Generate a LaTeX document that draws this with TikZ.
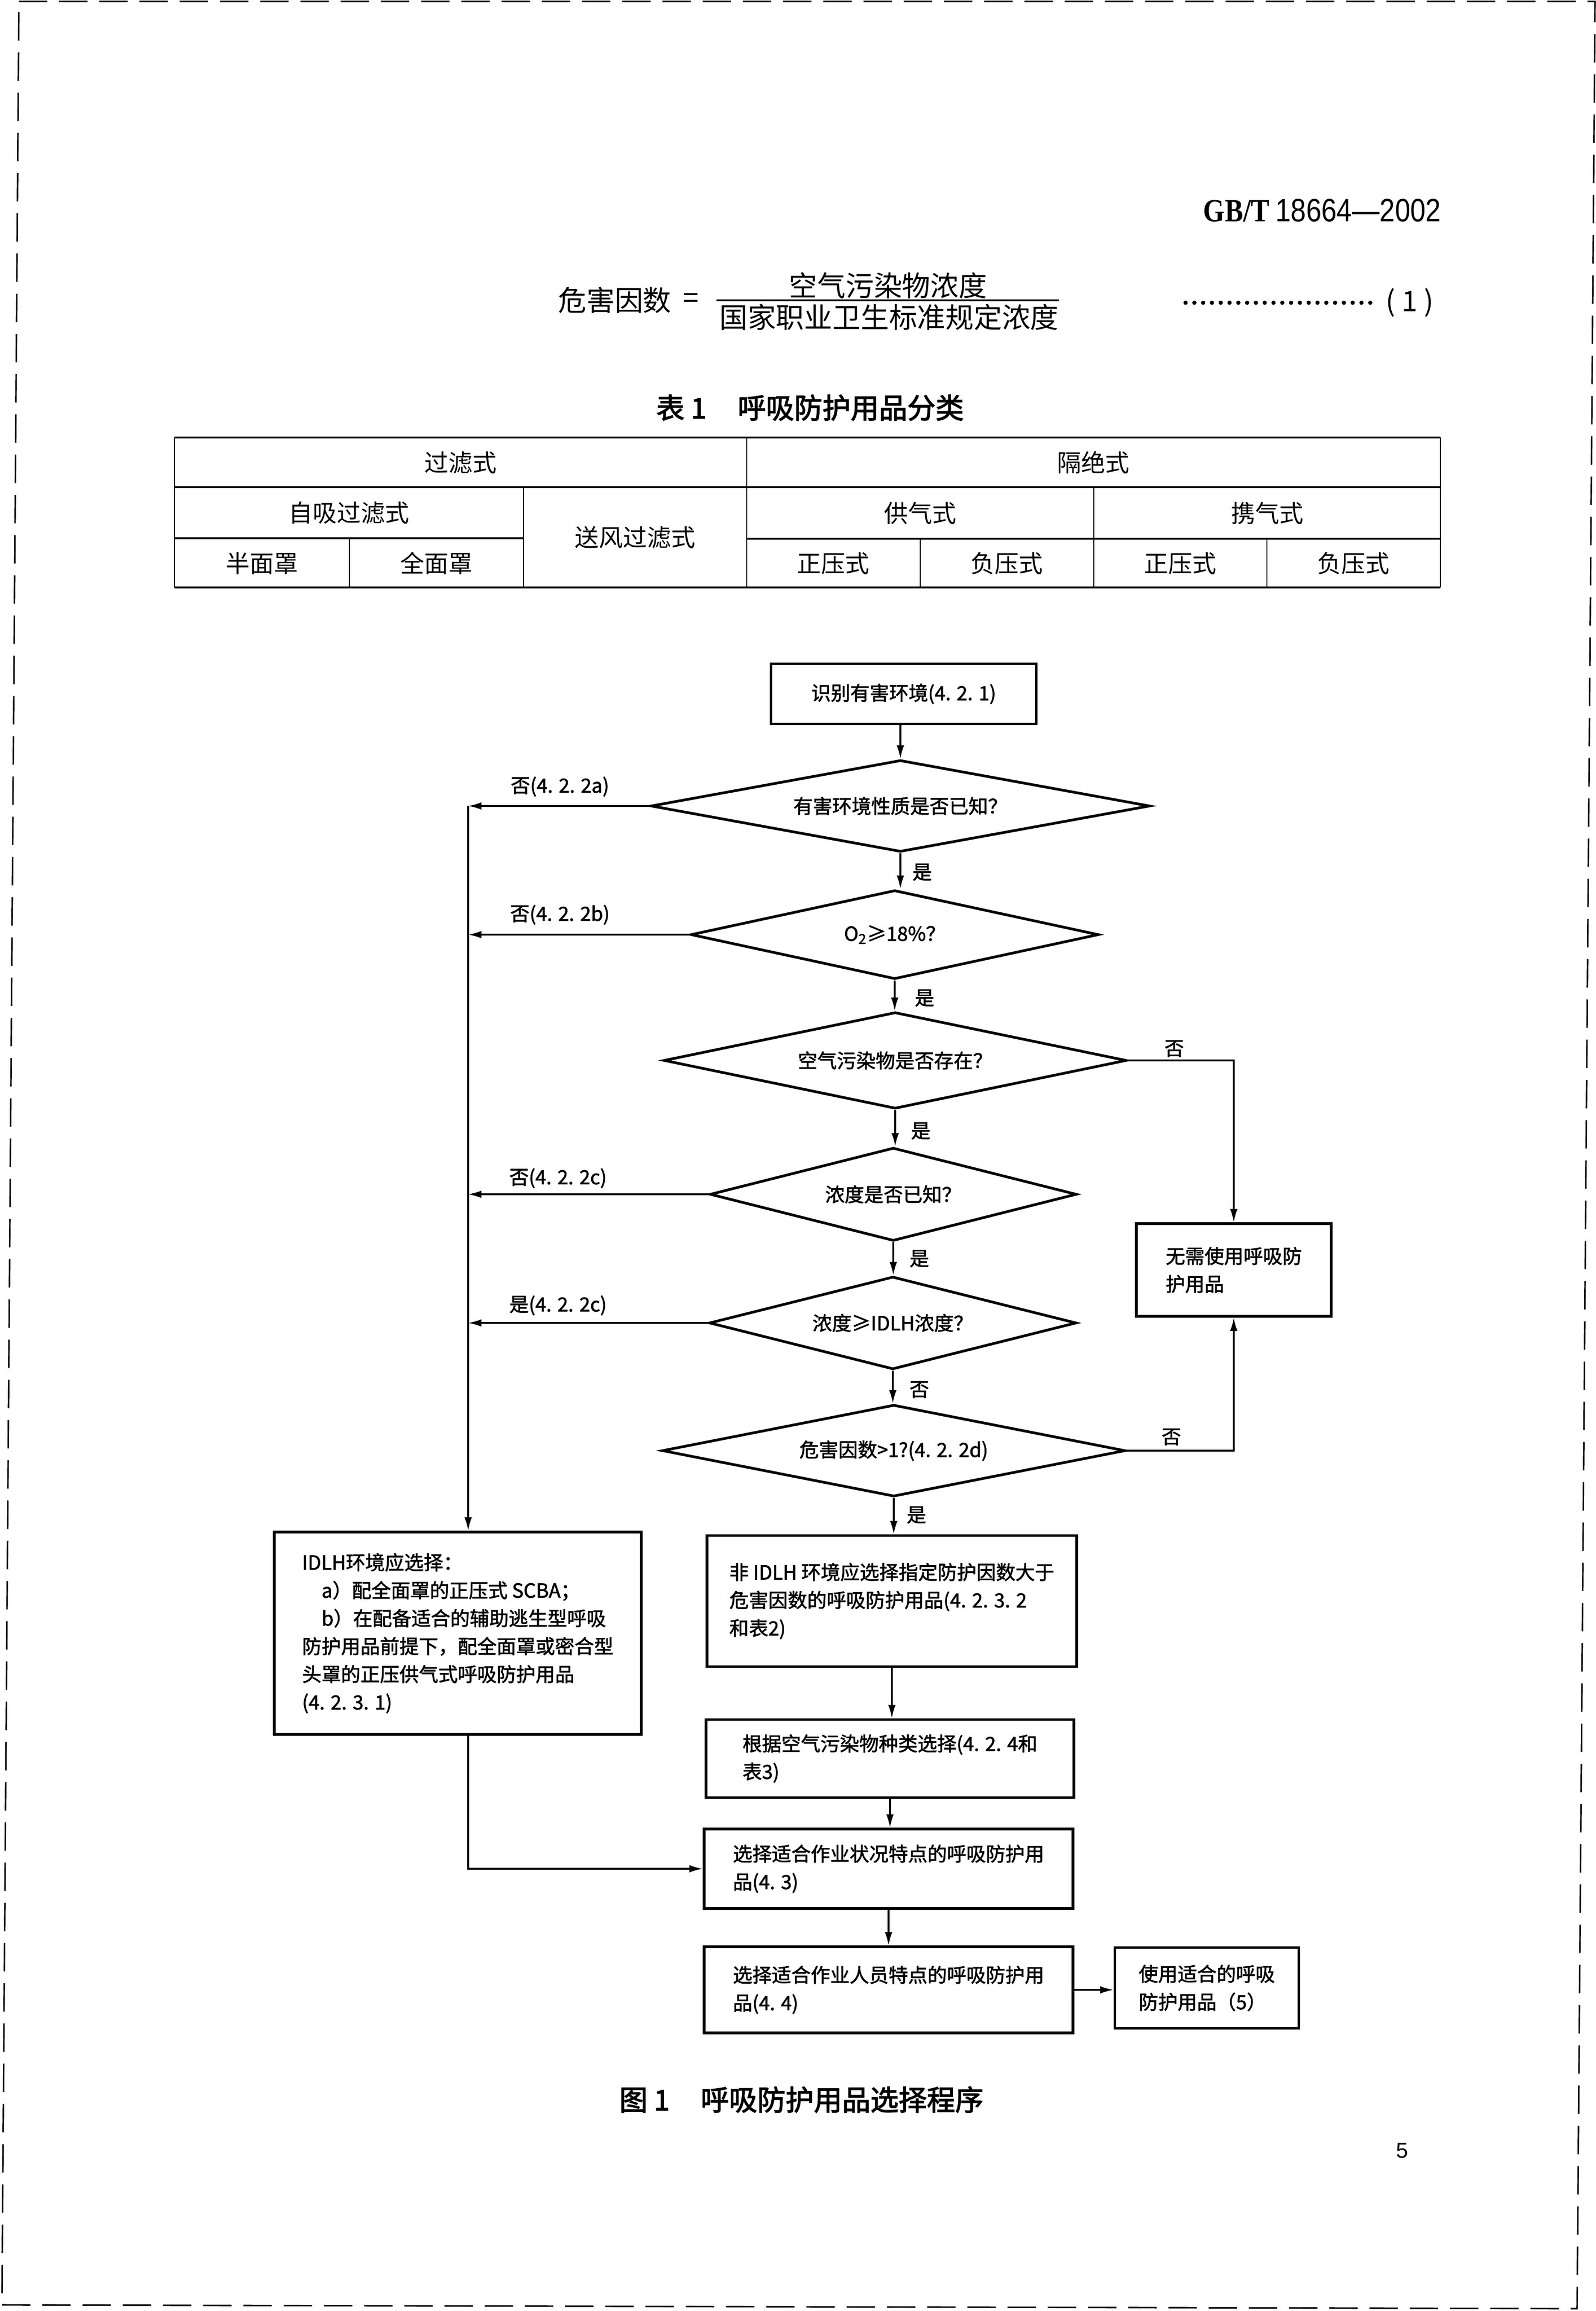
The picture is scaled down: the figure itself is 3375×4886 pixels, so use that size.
\documentclass[tikz,border=0pt]{standalone}
\usepackage{graphicx}
\usepackage{fontspec}
\setmainfont{Noto Sans CJK SC}[AutoFakeBold=2.5]
\newfontfamily\fcfam{Noto Sans CJK SC}[FakeBold=1.8]
\newfontfamily\libsans{Liberation Sans}
\newfontfamily\libserif{Liberation Serif}
\usetikzlibrary{shapes.geometric,arrows.meta,calc}
\newcommand\fcfont{\fcfam\fontsize{11.7pt}{16.8pt}\selectfont}
\newcommand\tbfont{\fontsize{14.5pt}{17pt}\selectfont}
\newcommand\eqfont{\fontsize{17pt}{20pt}\selectfont}
\newcommand\ttlfont{\fontsize{17pt}{20pt}\selectfont\bfseries}
\begin{document}
\begin{tikzpicture}[x=0.01cm,y=-0.01cm,
  box/.style={draw, line width=1.6pt, inner sep=0pt, font=\fcfont, align=left},
  dia/.style={draw, diamond, aspect=5, line width=1.6pt, inner sep=0pt, font=\fcfont},
  arr/.style={line width=0.9pt, -{Latex[length=8pt,width=4.5pt]}},
  lbl/.style={font=\fcfont, inner sep=0pt},
  cell/.style={font=\tbfont, inner sep=0pt},
  hrule/.style={line width=1.2pt},
  vrule/.style={line width=0.6pt},
  eqtxt/.style={font=\eqfont, inner sep=0pt}]
\useasboundingbox (0,0) rectangle (3375,4886);
% page border (scan edge)
\draw[line width=0.9pt, dash pattern=on 0.6cm off 0.25cm] (40,3) -- (3373,3) -- (3335,4881) -- (4,4873) -- cycle;

% header
\node[anchor=east, inner sep=0pt] (hdr) at (3048,445)
  {\scalebox{0.85}[1]{\fontsize{19.5pt}{22pt}\selectfont{\libserif\bfseries GB/T} {\libsans 18664—2002}}};

% formula
\node[eqtxt] (hf) at (1300,635) {危害因数};
\node[eqtxt] (eq) at (1461,636) {=};
\node[eqtxt] (num) at (1878,604) {空气污染物浓度};
\draw[line width=0.9pt] (1515,635) -- (2239,635);
\node[eqtxt] (den) at (1880,671) {国家职业卫生标准规定浓度};
\foreach \i in {0,...,21} \fill (2507+\i*18.6,640) circle[radius=0.045cm];
\node[eqtxt] (eqn) at (2981,640) {( 1 )};

% table
\node[anchor=west, font=\ttlfont, inner sep=0pt] (ttl) at (1387,862) {表 1\hspace{1.1em}呼吸防护用品分类};
\draw[hrule] (369,925) -- (3046,925);
\draw[hrule] (369,1030) -- (3046,1030);
\draw[hrule] (369,1138) -- (1107,1138);
\draw[hrule] (1579,1139) -- (3046,1139);
\draw[hrule] (369,1242) -- (3046,1242);
\draw[vrule] (369,925) -- (369,1242);
\draw[vrule] (3046,925) -- (3046,1242);
\draw[vrule] (1579,925) -- (1579,1242);
\draw[vrule] (1107,1030) -- (1107,1242);
\draw[vrule] (739,1138) -- (739,1242);
\draw[vrule] (2313,1030) -- (2313,1242);
\draw[vrule] (1946,1139) -- (1946,1242);
\draw[vrule] (2679,1139) -- (2679,1242);
\node[cell] (c1) at (974,978) {过滤式};
\node[cell] (c2) at (2312,978) {隔绝式};
\node[cell] (c3) at (738,1084) {自吸过滤式};
\node[cell] (c4) at (1343,1136) {送风过滤式};
\node[cell] (c5) at (1946,1085) {供气式};
\node[cell] (c6) at (2680,1085) {携气式};
\node[cell] (c7) at (554,1191) {半面罩};
\node[cell] (c8) at (923,1191) {全面罩};
\node[cell] (c9) at (1762,1191) {正压式};
\node[cell] (c10) at (2129,1191) {负压式};
\node[cell] (c11) at (2496,1191) {正压式};
\node[cell] (c12) at (2862,1191) {负压式};

% flowchart nodes
\node[box, align=center, minimum width=5.61cm, minimum height=1.27cm] (B1) at (1911,1467) {识别有害环境(4. 2. 1)};
\node[dia, minimum width=10.55cm, minimum height=1.94cm] (D1) at (1904,1704) {有害环境性质是否已知？};
\node[dia, minimum width=8.62cm, minimum height=1.88cm] (D2) at (1892,1976) {O\textsubscript{2}≥18\%？};
\node[dia, minimum width=9.78cm, minimum height=2.04cm] (D3) at (1893,2242) {空气污染物是否存在？};
\node[dia, minimum width=7.75cm, minimum height=1.97cm] (D4) at (1889,2525) {浓度是否已知？};
\node[dia, minimum width=7.76cm, minimum height=1.96cm] (D5) at (1888,2797) {浓度≥IDLH浓度？};
\node[dia, minimum width=9.79cm, minimum height=1.94cm] (D6) at (1890,3067) {危害因数>1?(4. 2. 2d)};
\node[box, minimum width=4.12cm, minimum height=1.96cm] (NO) at (2609,2685) {无需使用呼吸防\\护用品};
\node[box, minimum width=7.76cm, minimum height=4.28cm] (IDLH) at (968,3453)
  {IDLH环境应选择：\\\hspace*{1em}a）配全面罩的正压式 SCBA；\\\hspace*{1em}b）在配备适合的辅助逃生型呼吸\\防护用品前提下，配全面罩或密合型\\头罩的正压供气式呼吸防护用品\\(4. 2. 3. 1)};
\node[box, minimum width=7.82cm, minimum height=2.77cm] (N1) at (1886,3385)
  {非 IDLH 环境应选择指定防护因数大于\\危害因数的呼吸防护用品(4. 2. 3. 2\\和表2)};
\node[box, minimum width=7.78cm, minimum height=1.65cm] (BC) at (1882,3718) {根据空气污染物种类选择(4. 2. 4和\\表3)};
\node[box, minimum width=7.80cm, minimum height=1.68cm] (S43) at (1879,3951) {选择适合作业状况特点的呼吸防护用\\品(4. 3)};
\node[box, minimum width=7.80cm, minimum height=1.82cm] (S44) at (1879,4207) {选择适合作业人员特点的呼吸防护用\\品(4. 4)};
\node[box, minimum width=3.89cm, minimum height=1.71cm] (U5) at (2552,4203) {使用适合的呼吸\\防护用品（5）};
\coordinate (ttop) at (990,1704);

% connectors
\draw[arr] (B1.south -| D1.north) -- (D1.north);
\draw[arr] (D1.south) -- (D1.south |- D2.north);
\draw[arr] (D2.south) -- (D2.south |- D3.north);
\draw[arr] (D3.south) -- (D3.south |- D4.north);
\draw[arr] (D4.south) -- (D4.south |- D5.north);
\draw[arr] (D5.south) -- (D5.south |- D6.north);
\draw[arr] (D6.south) -- (D6.south |- N1.north);
\draw[arr] (N1.south) -- (N1.south |- BC.north);
\draw[arr] (BC.south) -- (BC.south |- S43.north);
\draw[arr] (S43.south) -- (S43.south |- S44.north);
\draw[arr] (S44.east) -- (S44.east -| U5.west);
\draw[arr] (D1.west) -- (D1.west -| ttop);
\draw[arr] (D2.west) -- (D2.west -| ttop);
\draw[arr] (D4.west) -- (D4.west -| ttop);
\draw[arr] (D5.west) -- (D5.west -| ttop);
\draw[arr] (ttop) -- (ttop |- IDLH.north);
\draw[arr] (D3.east) -| (NO.north);
\draw[arr] (D6.east) -| (NO.south);
\draw[arr] (ttop |- IDLH.south) |- (S43.west);

% labels
\node[lbl] (la) at (1184,1663) {否(4. 2. 2a)};
\node[lbl] (lb) at (1184,1934) {否(4. 2. 2b)};
\node[lbl] (lc) at (1180,2491) {否(4. 2. 2c)};
\node[lbl] (ld) at (1180,2760) {是(4. 2. 2c)};
\node[lbl] (y1) at (1950,1844) {是};
\node[lbl] (y2) at (1955,2110) {是};
\node[lbl] (n3) at (2483,2217) {否};
\node[lbl] (y3) at (1947,2391) {是};
\node[lbl] (y4) at (1944,2661) {是};
\node[lbl] (n5) at (1944,2938) {否};
\node[lbl] (n6) at (2477,3038) {否};
\node[lbl] (y6) at (1938,3203) {是};

% caption and page number
\node[anchor=west, font=\ttlfont, inner sep=0pt] (cap) at (1309,4439) {图 1\hspace{1.1em}呼吸防护用品选择程序};
\node[font=\libsans\fontsize{13pt}{15pt}\selectfont, inner sep=0pt] (pg) at (2965,4547) {5};
\end{tikzpicture}
\end{document}
